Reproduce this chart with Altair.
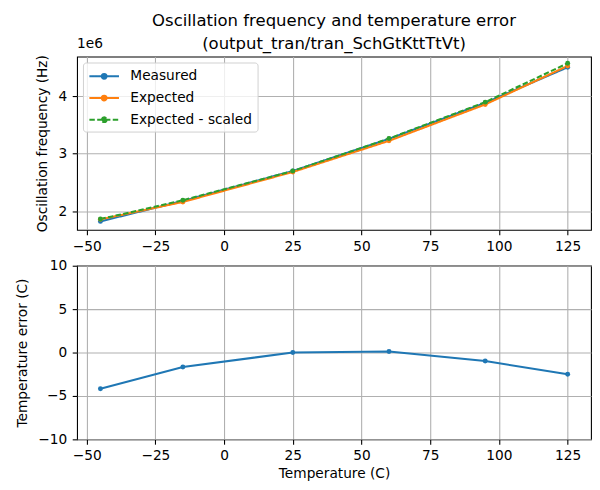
import altair as alt
import pandas as pd

# Data
temps = [-45, -15, 25, 60, 95, 125]
measured_hz = [1822000, 2178000, 2699000, 3258000, 3885000, 4504000]
expected_hz = [1857000, 2160000, 2682000, 3224000, 3857000, 4527000]
scaled_hz = [1862000, 2189000, 2699000, 3264000, 3897000, 4573000]
temp_error = [-4.17, -1.67, 0.0, 0.11, -0.98, -2.5]

series_names = ["Measured", "Expected", "Expected - scaled"]
series_colors = ["#1f77b4", "#ff7f0e", "#2ca02c"]
x_ticks = [-50, -25, 0, 25, 50, 75, 100, 125]
y_top_ticks = [2000000, 3000000, 4000000]
y_bot_ticks = [-10, -5, 0, 5, 10]

rows = []
for name, vals in zip(series_names, [measured_hz, expected_hz, scaled_hz]):
    for t, v in zip(temps, vals):
        rows.append({"temp": t, "freq": v, "series": name})
top_df = pd.DataFrame(rows)
bot_df = pd.DataFrame({"temp": temps, "err": temp_error})

FONT = "DejaVu Sans"
LW = 2.08
minus = "replace(datum.label, '-', '\u2212')"

x_scale = alt.Scale(domain=[-53.5, 133.5], nice=False, zero=False)

legend_path = ("M-1,0L3,0"
               "M1.32,0A0.32,0.32,0,1,1,0.68,0A0.32,0.32,0,1,1,1.32,0"
               "M1.16,0A0.16,0.16,0,1,1,0.84,0A0.16,0.16,0,1,1,1.16,0")

legend = alt.Legend(
    title=None, orient="top-left", offset=6,
    symbolType=legend_path, symbolSize=225,
    symbolStrokeWidth=LW, labelFontSize=13.9, labelFont=FONT,
    labelColor="black", labelOffset=25,
    fillColor="rgba(255,255,255,0.8)", strokeColor="#d0d0d0",
    cornerRadius=3, padding=5, rowPadding=6)

lines = alt.Chart(top_df).mark_line(
    strokeWidth=LW, point=alt.OverlayMarkDef(filled=True, size=25)
).encode(
    x=alt.X("temp:Q", scale=x_scale,
            axis=alt.Axis(values=x_ticks, title=None, labelExpr=minus, labelPadding=5)),
    y=alt.Y("freq:Q", scale=alt.Scale(domain=[1675000, 4690000], nice=False, zero=False),
            axis=alt.Axis(values=y_top_ticks, title="Oscillation frequency (Hz)",
                          labelExpr="format(datum.value / 1000000, 'd')")),
    color=alt.Color("series:N",
                    scale=alt.Scale(domain=series_names, range=series_colors),
                    sort=series_names, legend=legend),
    strokeDash=alt.StrokeDash("series:N",
                              scale=alt.Scale(domain=series_names,
                                              range=[[1, 0], [1, 0], [5.5, 2.4]]),
                              sort=series_names, legend=legend),
)

exp_label = alt.Chart(pd.DataFrame({"t": ["1e6"]})).mark_text(
    align="left", baseline="alphabetic", fontSize=13.9, font=FONT, color="black"
).encode(text="t:N", x=alt.value(0), y=alt.value(-8.7))

top = alt.layer(lines, exp_label).properties(
    width=521, height=175.6,
    title=alt.TitleParams(
        text=["Oscillation frequency and temperature error",
              "(output_tran/tran_SchGtKttTtVt)"],
        fontSize=16.7, font=FONT, fontWeight="normal", color="black",
        anchor="middle", offset=-15.3, lineHeight=23),
)

bottom = alt.Chart(bot_df).mark_line(
    color="#1f77b4", strokeWidth=LW,
    point=alt.OverlayMarkDef(filled=True, size=25, color="#1f77b4"),
).encode(
    x=alt.X("temp:Q", scale=x_scale,
            axis=alt.Axis(values=x_ticks, title="Temperature (C)", labelExpr=minus,
                          labelPadding=4.5, titlePadding=4)),
    y=alt.Y("err:Q", scale=alt.Scale(domain=[-10, 10], nice=False),
            axis=alt.Axis(values=y_bot_ticks, title="Temperature error (C)",
                          labelExpr=minus)),
).properties(width=521, height=176)

chart = alt.vconcat(top, bottom, spacing=36, bounds="flush").properties(
    padding={"left": 7, "top": 1, "right": 0, "bottom": 0}
).configure(
    font=FONT,
).configure_view(
    stroke="black", strokeWidth=1.1,
).configure_axis(
    labelFont=FONT, labelFontSize=13.9, labelColor="black",
    titleFont=FONT, titleFontSize=13.9, titleFontWeight="normal", titleColor="black",
    tickColor="black", tickSize=4.9, tickWidth=1.1,
    gridColor="#b0b0b0", gridWidth=1.1, domain=False,
).configure_axisY(
    labelPadding=5.5, titlePadding=8.5,
).configure_concat(spacing=36)

chart.save("out.html", embed_options={"renderer": "svg", "actions": False})
